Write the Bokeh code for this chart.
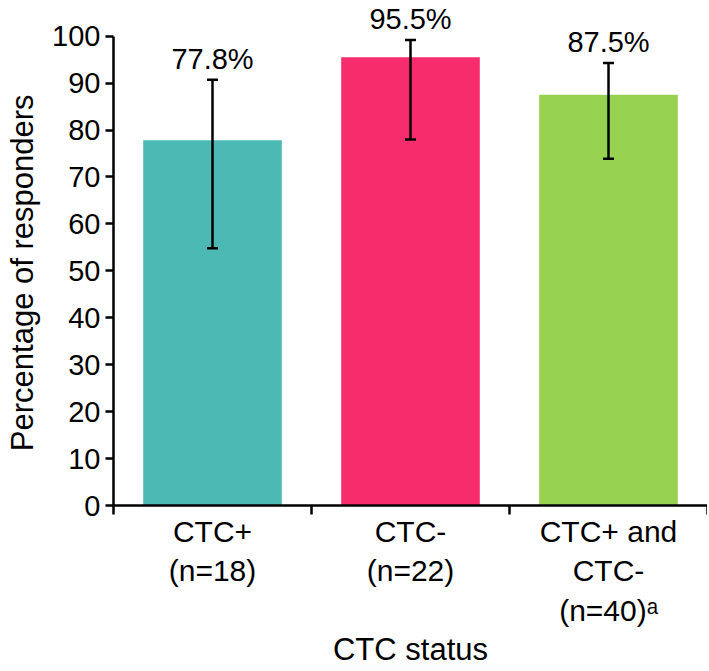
import math
from bokeh.plotting import figure
from bokeh.models import ColumnDataSource, Whisker, FixedTicker, Range1d, TeeHead
from bokeh.core.properties import value
from bokeh.embed import file_html
from bokeh.resources import INLINE

categories = ["CTC+\n(n=18)", "CTC-\n(n=22)", "CTC+ and\nCTC-\n(n=40)\u1d43"]
responders = [77.8, 95.5, 87.5]
ci_low = [54.8, 78.0, 73.9]
ci_high = [90.7, 99.2, 94.3]
colors = ["#4DB9B4", "#F72C6C", "#96D14F"]
y_ticks = list(range(0, 101, 10))
x_title = "CTC status"
y_title = "Percentage of responders"

FONT = "Liberation Sans"
LABEL_GAP = 1.1  # data units between whisker top and value label box
xs = [i + 0.5 for i in range(len(categories))]
src = ColumnDataSource(dict(x=xs, top=responders, lo=ci_low, hi=ci_high, color=colors,
                            ty=[h + LABEL_GAP for h in ci_high],
                            label=[f"{v}%" for v in responders]))

p = figure(width=707, height=669, output_backend="svg", toolbar_location=None,
           x_range=Range1d(0, len(categories)), y_range=Range1d(0, 107.6),
           min_border_left=113, min_border_right=0, min_border_top=0, min_border_bottom=161)
p.outline_line_color = None
p.grid.visible = False
p.background_fill_color = "white"

p.vbar(x="x", top="top", bottom=0, width=0.7, fill_color="color", line_color=None, source=src)

w = Whisker(base="x", lower="lo", upper="hi", source=src, line_width=2.5, line_color="black",
            upper_head=TeeHead(size=11, line_width=2.5, line_color="black"),
            lower_head=TeeHead(size=11, line_width=2.5, line_color="black"),
            level="overlay")
p.add_layout(w)

p.text(x="x", y="ty", text="label", text_align="center", text_baseline="bottom",
       text_font=value(FONT), text_font_size="29px", text_color="black", source=src)

# y axis
ya = p.yaxis[0]
ya.ticker = FixedTicker(ticks=y_ticks)
ya.bounds = (0, 100)
ya.axis_line_width = 2.5
ya.major_tick_line_width = 2.5
ya.major_tick_out = 8
ya.major_tick_in = 0
ya.minor_tick_line_color = None
ya.major_label_standoff = 5
ya.major_label_text_font = FONT
ya.major_label_text_font_size = "29px"
ya.major_label_text_color = "black"
# trailing em/nbsp spaces centre the title on the 0-100 axis span rather than the whole frame
ya.axis_label = y_title + "\u2003\u00a0"
ya.axis_label_standoff = 9
ya.axis_label_text_font = FONT
ya.axis_label_text_font_size = "31px"
ya.axis_label_text_font_style = "normal"
ya.axis_label_text_color = "black"

# x axis
xa = p.xaxis[0]
xa.ticker = FixedTicker(ticks=xs, minor_ticks=list(range(len(categories) + 1)))
xa.bounds = (0, len(categories))
xa.axis_line_width = 2.5
xa.major_tick_line_color = None
xa.major_tick_out = 9
xa.major_tick_in = 0
xa.minor_tick_line_color = "black"
xa.minor_tick_line_width = 2.5
xa.minor_tick_out = 9
xa.minor_tick_in = 0
xa.major_label_overrides = {x: c for x, c in zip(xs, categories)}
xa.major_label_standoff = 0
xa.major_label_text_font = FONT
xa.major_label_text_font_size = "30px"
xa.major_label_text_color = "black"
xa.axis_label = x_title
xa.axis_label_text_font = FONT
xa.axis_label_text_font_size = "31px"
xa.axis_label_text_font_style = "normal"
xa.axis_label_text_color = "black"
xa.axis_label_standoff = 2

open("out.html", "w").write(file_html(p, INLINE))
